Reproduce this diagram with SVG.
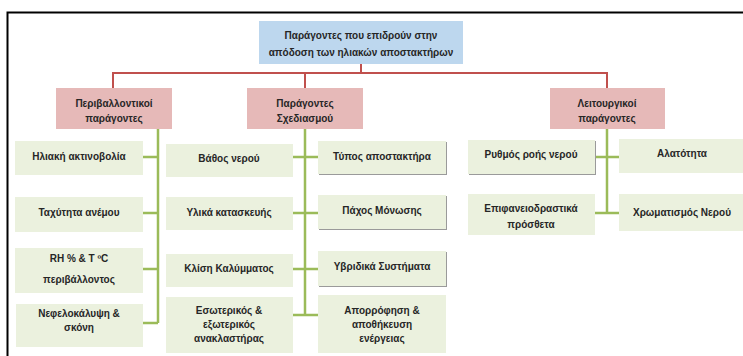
<svg xmlns="http://www.w3.org/2000/svg" width="743" height="356" viewBox="0 0 743 356">
<style>
text{font-family:"Liberation Sans",Arial,sans-serif;font-size:10px;font-weight:bold;fill:#262626;text-anchor:middle}
.top{fill:#BDD7EE}
.cat{fill:#E6B9B8}
.leaf{fill:#EBF1DE}
.sh{fill:#9a9a9a}
.red{stroke:#C0504D;stroke-width:2;fill:none}
.grn{stroke:#9BBB59;stroke-width:2.5;fill:none}
</style>
<rect width="743" height="356" fill="#ffffff"/>
<path d="M7.5 356V12.5H743" stroke="#000" stroke-width="2" fill="none"/>
<g id="connectors">
<path class="red" d="M361 64V73M113 88V73H607V88M305 73V88"/>
<path class="grn" d="M158 129V323M143 157H158M143 213H158M143 269H158M143 323H158"/>
<path class="grn" d="M305 129V315M293 157H318M293 213H318M293 269H318M293 315H318"/>
<path class="grn" d="M607 129V213M595 157H619M595 213H619"/>
</g>
<g id="n0"><rect class="top" x="259" y="21" width="204" height="43"/><text x="361" y="39">Παράγοντες που επιδρούν στην</text><text x="361" y="56">απόδοση των ηλιακών αποστακτήρων</text></g>
<g id="c1"><rect class="cat" x="56" y="88" width="116" height="41"/><text x="114" y="107">Περιβαλλοντικοί</text><text x="114" y="122">παράγοντες</text></g>
<g id="c2"><rect class="cat" x="247" y="88" width="116" height="41"/><text x="305" y="107">Παράγοντες</text><text x="305" y="122">Σχεδιασμού</text></g>
<g id="c3"><rect class="cat" x="550" y="88" width="115" height="41"/><text x="607" y="107">Λειτουργικοί</text><text x="607" y="122">παράγοντες</text></g>
<g id="l1"><rect class="leaf" x="15" y="141" width="128" height="34"/><text x="79" y="160">Ηλιακή ακτινοβολία</text></g>
<g id="l2"><rect class="leaf" x="15" y="197" width="128" height="35"/><text x="79" y="216">Ταχύτητα ανέμου</text></g>
<g id="l3"><rect class="leaf" x="15" y="248" width="128" height="45"/><text x="79" y="262">RH % &amp; T ºC</text><text x="79" y="283">περιβάλλοντος</text></g>
<g id="l4"><rect class="leaf" x="16" y="304" width="127" height="43"/><text x="79" y="317">Νεφελοκάλυψη &amp;</text><text x="79" y="331">σκόνη</text></g>
<g id="m1"><rect class="leaf" x="166" y="144" width="127" height="33"/><text x="229" y="162">Βάθος νερού</text></g>
<g id="m2"><rect class="leaf" x="166" y="197" width="127" height="33"/><text x="229" y="216">Υλικά κατασκευής</text></g>
<g id="m3"><rect class="leaf" x="166" y="254" width="127" height="33"/><text x="229" y="272">Κλίση Καλύμματος</text></g>
<g id="m4"><rect class="leaf" x="166" y="297" width="127" height="56"/><text x="229" y="314">Εσωτερικός &amp;</text><text x="229" y="328">εξωτερικός</text><text x="229" y="342">ανακλαστήρας</text></g>
<g id="r1"><rect class="sh" x="319" y="142" width="128" height="33"/><rect class="leaf" x="318" y="141" width="128" height="33"/><text x="382" y="160">Τύπος αποστακτήρα</text></g>
<g id="r2"><rect class="sh" x="319" y="196" width="128" height="34"/><rect class="leaf" x="318" y="195" width="128" height="34"/><text x="382" y="214">Πάχος Μόνωσης</text></g>
<g id="r3"><rect class="sh" x="319" y="252" width="128" height="35"/><rect class="leaf" x="318" y="251" width="128" height="35"/><text x="382" y="270">Υβριδικά Συστήματα</text></g>
<g id="r4"><rect class="leaf" x="318" y="295" width="128" height="58"/><text x="382" y="314">Απορρόφηση &amp;</text><text x="382" y="328">αποθήκευση</text><text x="382" y="342">ενέργειας</text></g>
<g id="o1"><rect class="sh" x="469" y="141" width="127" height="34"/><rect class="leaf" x="468" y="140" width="127" height="34"/><text x="531" y="158">Ρυθμός ροής νερού</text></g>
<g id="o2"><rect class="leaf" x="468" y="194" width="127" height="41"/><text x="531" y="212">Επιφανειοδραστικά</text><text x="531" y="228">πρόσθετα</text></g>
<g id="o3"><rect class="leaf" x="619" y="139" width="124" height="34"/><text x="682" y="157">Αλατότητα</text></g>
<g id="o4"><rect class="leaf" x="619" y="194" width="124" height="37"/><text x="682" y="216">Χρωματισμός Νερού</text></g>
</svg>
